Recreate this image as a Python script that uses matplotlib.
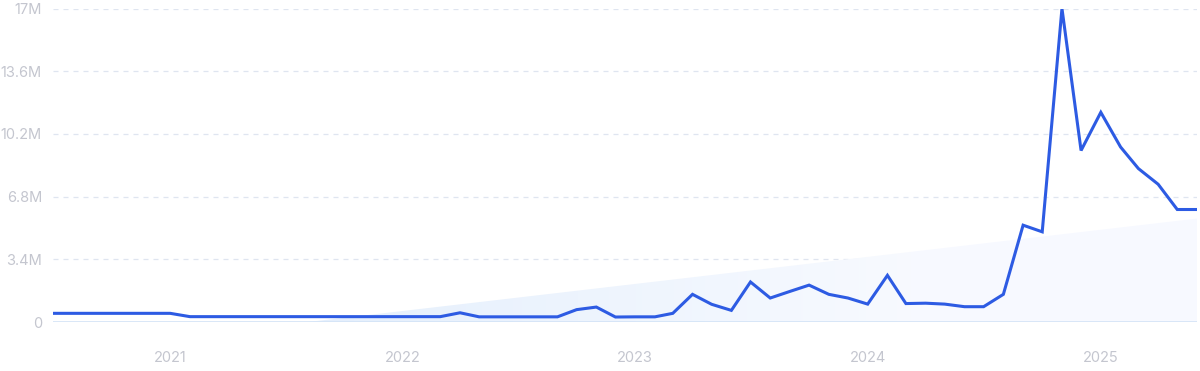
import numpy as np
import pandas as pd
import matplotlib
matplotlib.use("Agg")
import matplotlib.pyplot as plt
import matplotlib.dates as mdates
from matplotlib.patches import Polygon
from matplotlib.ticker import FixedLocator, FuncFormatter

plt.rcParams['font.family'] = ['Inter', 'DejaVu Sans']

# Monthly values, Jul 2020 - Jun 2025 (in millions)
months = pd.date_range("2020-07-01", "2025-06-01", freq="MS")
values_m = [
    0.47, 0.47, 0.47, 0.47, 0.47, 0.47,             # Jul-Dec 2020
    0.47, 0.29, 0.29, 0.29, 0.29, 0.29,             # Jan-Jun 2021
    0.29, 0.29, 0.29, 0.29, 0.29, 0.29,             # Jul-Dec 2021
    0.29, 0.29, 0.29, 0.50, 0.28, 0.28,             # Jan-Jun 2022
    0.28, 0.28, 0.28, 0.67, 0.81, 0.27,             # Jul-Dec 2022
    0.28, 0.28, 0.47, 1.50, 0.96, 0.63,             # Jan-Jun 2023
    2.17, 1.30, 1.66, 2.00, 1.50, 1.30,             # Jul-Dec 2023
    0.97, 2.53, 1.00, 1.02, 0.97, 0.83,             # Jan-Jun 2024
    0.83, 1.50, 5.25, 4.89, 17.0, 9.30,             # Jul-Dec 2024
    11.37, 9.49, 8.32, 7.47, 6.10, 6.10,            # Jan-Jun 2025
]
values = np.array(values_m) * 1e6

y_ticks = [0, 3.4e6, 6.8e6, 10.2e6, 13.6e6, 17e6]
y_labels = ["0", "3.4M", "6.8M", "10.2M", "13.6M", "17M"]
x_tick_years = ["2021", "2022", "2023", "2024", "2025"]

line_color = "#2d5be3"
label_color = "#c4c6cf"

fig = plt.figure(figsize=(12, 3.71), dpi=100)
ax = fig.add_axes([53/1200, 1 - 322/371, (1197-53)/1200, (322-8.5)/371])

xnum = mdates.date2num(months)

# Trend area (linear fit clipped at zero)
coef = np.polyfit(np.arange(len(values)), values, 1)
trend = np.clip(np.polyval(coef, np.arange(len(values))), 0, None)
xs_fine = np.linspace(xnum[0], xnum[-1], 400)
idx_fine = np.linspace(0, len(values) - 1, 400)
trend_fine = np.clip(np.polyval(coef, idx_fine), 0, None)
verts = np.column_stack([np.r_[xs_fine, xs_fine[::-1]], np.r_[trend_fine, np.zeros_like(trend_fine)]])
poly = Polygon(verts, closed=True, facecolor="none", edgecolor="none")
ax.add_patch(poly)
grad = np.zeros((2, 2, 4))
c1 = np.array([0.90, 0.94, 0.99, 1.0])
c2 = np.array([0.97, 0.98, 1.0, 1.0])
grad[0, 0] = c1
grad[0, 1] = c2
grad[1, 0] = c1
grad[1, 1] = c2
im = ax.imshow(grad, extent=[xnum[0], xnum[-1], 0, 17e6], aspect="auto",
               interpolation="bilinear", origin="lower", zorder=1)
im.set_clip_path(poly)

ax.plot(xnum, values, color=line_color, lw=2.2, zorder=3, solid_joinstyle="miter")

ax.set_xlim(xnum[0], xnum[-1])
ax.set_ylim(0, 17e6)

for yt in y_ticks[1:]:
    ax.axhline(yt, color="#dfe5f0", lw=0.9, ls=(0, (4, 4)), zorder=0)
ax.axhline(0, color="#d3e3f6", lw=1.2, zorder=2)

ax.yaxis.set_major_locator(FixedLocator(y_ticks))
ax.set_yticklabels(y_labels)
year_pos = [mdates.date2num(pd.Timestamp(f"{y}-01-01")) for y in x_tick_years]
ax.xaxis.set_major_locator(FixedLocator(year_pos))
ax.set_xticklabels(x_tick_years)

ax.tick_params(axis="both", length=0, labelsize=10.5, labelcolor=label_color)
ax.tick_params(axis="y", pad=8)
ax.tick_params(axis="x", pad=21)
for s in ax.spines.values():
    s.set_visible(False)

fig.savefig("out.png", dpi=100)
